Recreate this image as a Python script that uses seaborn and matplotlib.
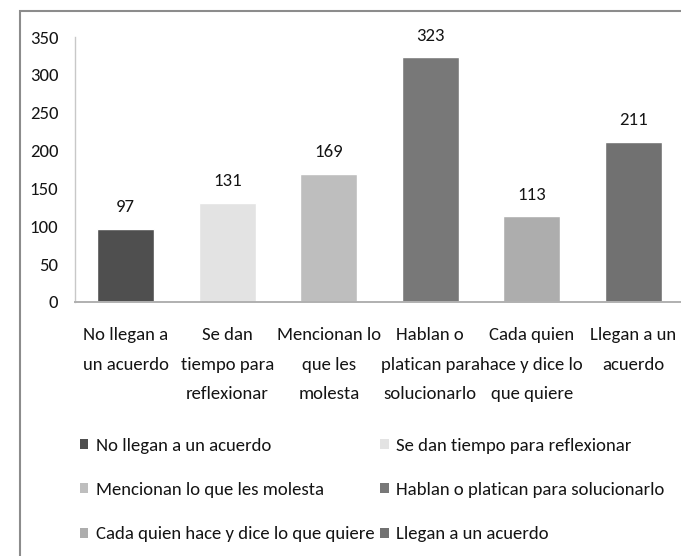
import matplotlib
matplotlib.use("Agg")
import matplotlib.pyplot as plt
from matplotlib.patches import Patch, Rectangle
import seaborn as sns

# data
categories = [
    "No llegan a un acuerdo",
    "Se dan tiempo para reflexionar",
    "Mencionan lo que les molesta",
    "Hablan o platican para solucionarlo",
    "Cada quien hace y dice lo que quiere",
    "Llegan a un acuerdo",
]
tick_labels = [
    "No llegan a\nun acuerdo",
    "Se dan\ntiempo para\nreflexionar",
    "Mencionan lo\nque les\nmolesta",
    "Hablan o\nplatican para\nsolucionarlo",
    "Cada quien\nhace y dice lo\nque quiere",
    "Llegan a un\nacuerdo",
]
values = [97, 131, 169, 323, 113, 211]
colors = ["#4f4f4f", "#e3e3e3", "#bebebe", "#787878", "#adadad", "#717171"]

sns.set_style("white")
plt.rcParams["font.family"] = ["Carlito", "DejaVu Sans"]
plt.rcParams["font.size"] = 13
text_color = "#141414"
fs = 13.5

W, H = 681, 556
fig = plt.figure(figsize=(W / 100, H / 100), dpi=100)
ax = fig.add_axes([75 / W, 1 - 302 / H, (684 - 75) / W, (302 - 37) / H])

sns.barplot(x=categories, y=values, hue=categories, palette=colors,
            width=0.566, legend=False, saturation=1, ax=ax)

for c in ax.containers:
    ax.bar_label(c, padding=10, fontsize=fs, color=text_color)

ax.set_ylim(0, 350)
ax.set_yticks(range(0, 351, 50))
ax.set_xlim(-0.5, 5.5)
ax.set_xticks(range(len(categories)))
ax.set_xticklabels(tick_labels, linespacing=2.05, color=text_color, fontsize=fs)
ax.tick_params(axis="x", length=0, pad=18)
ax.tick_params(axis="y", length=0, pad=12, labelcolor=text_color, labelsize=fs)
ax.set_xlabel("")
ax.set_ylabel("")

for s in ["top", "right"]:
    ax.spines[s].set_visible(False)
ax.spines["left"].set_color("#c8c8c8")
ax.spines["left"].set_linewidth(1.0)
ax.spines["bottom"].set_color("#b0b0b0")
ax.spines["bottom"].set_linewidth(1.4)

# legend laid out row by row like the original
handles = [Patch(facecolor=col, edgecolor="none") for col in colors]
order = [0, 2, 4, 1, 3, 5]
leg = fig.legend([handles[i] for i in order], [categories[i] for i in order],
                 ncol=2, loc="upper left", bbox_to_anchor=(80 / W, 1 - 438 / H),
                 frameon=False, fontsize=fs, handlelength=0.45, handleheight=0.45,
                 handletextpad=0.4, columnspacing=0.3, labelspacing=1.5,
                 borderpad=0, borderaxespad=0)
for t in leg.get_texts():
    t.set_color(text_color)

# outer chart frame (cut off at right and bottom in the reference)
fig.add_artist(Rectangle((20 / W, -0.1), 1.2, 1 - 11 / H + 0.1, transform=fig.transFigure,
                         fill=False, edgecolor="#8c8c8c", linewidth=1.5))

fig.savefig("out.png", dpi=100)
